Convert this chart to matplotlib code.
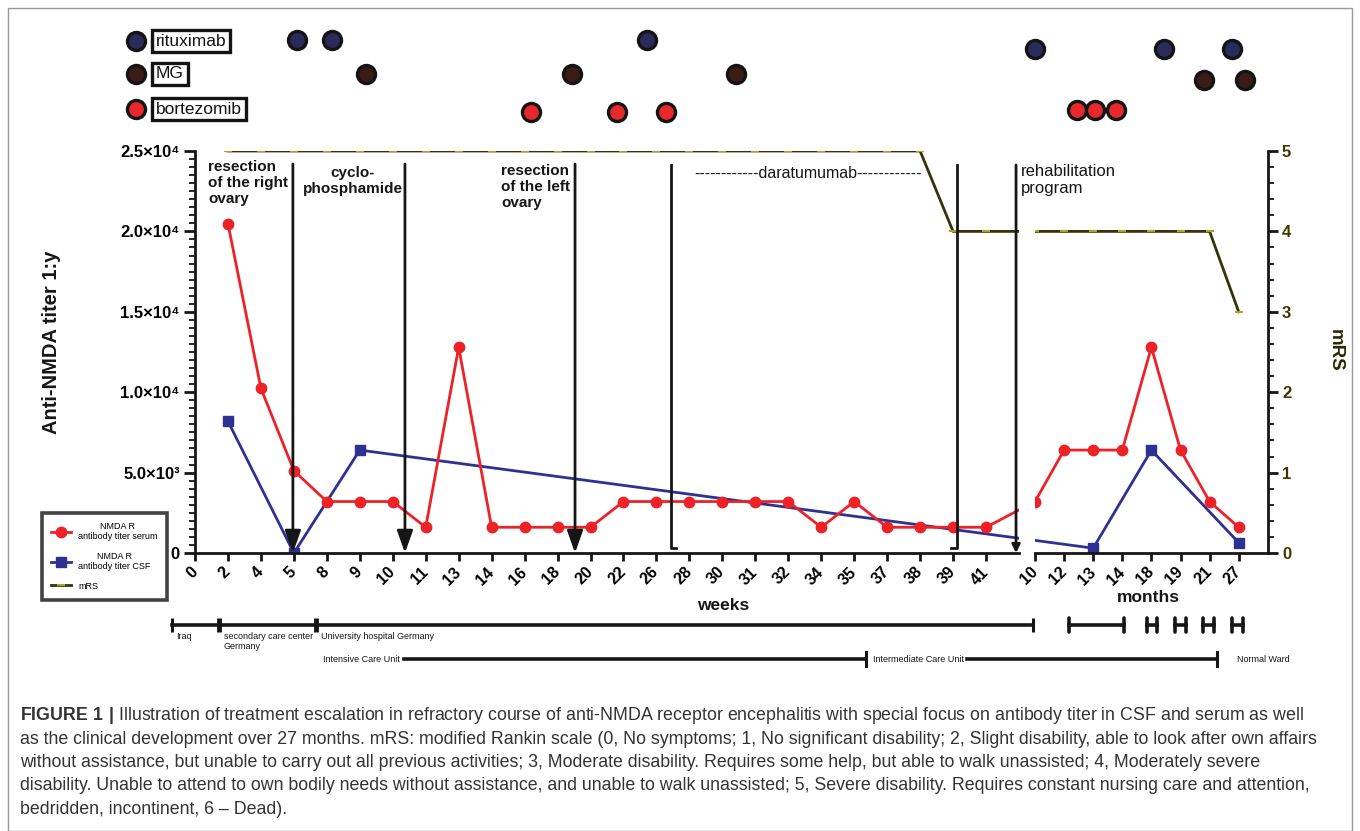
import numpy as np
import matplotlib
matplotlib.use('Agg')
import matplotlib.pyplot as plt
from matplotlib.patches import Rectangle
from matplotlib.ticker import MultipleLocator

plt.rcParams['font.family'] = ['Liberation Sans', 'DejaVu Sans']
plt.rcParams['mathtext.fontset'] = 'custom'
plt.rcParams['mathtext.rm'] = 'Liberation Sans'
plt.rcParams['mathtext.bf'] = 'Liberation Sans:bold'

nan = np.nan

# ---------------- data ----------------
week_labels = ['0', '2', '4', '5', '8', '9', '10', '11', '13', '14', '16', '18', '20',
               '22', '26', '28', '30', '31', '32', '34', '35', '37', '38', '39', '41']
month_labels = ['10', '12', '13', '14', '18', '19', '21', '27']

serum_weeks = [nan, 20480, 10240, 5120, 3200, 3200, 3200, 1600, 12800, 1600, 1600, 1600, 1600,
               3200, 3200, 3200, 3200, 3200, 3200, 1600, 3200, 1600, 1600, 1600, 1600]
serum_months = [3200, 6400, 6400, 6400, 12800, 6400, 3200, 1600]

csf_weeks = [nan, 8192, nan, 0, nan, 6400, nan, nan, nan, nan, nan, nan, nan,
             nan, nan, nan, nan, nan, nan, nan, nan, nan, nan, nan, nan]
csf_months = [nan, nan, 300, nan, 6400, nan, nan, 640]

mrs_weeks = [nan, 5, 5, 5, 5, 5, 5, 5, 5, 5, 5, 5, 5,
             5, 5, 5, 5, 5, 5, 5, 5, 5, 5, 4, 4]
mrs_months = [4, 4, 4, 4, 4, 4, 4, 3]

titer_ticks = [0, 5000, 10000, 15000, 20000, 25000]
titer_tick_labels = ['0', '5.0×10³', '1.0×10⁴', '1.5×10⁴', '2.0×10⁴', '2.5×10⁴']
mrs_ticks = [0, 1, 2, 3, 4, 5]

# treatment time points (in timeline units: week index, months continue after the break)
rituximab_t = [3.1, 4.15, 13.7, 25.5, 29.4, 31.45]
ivig_t = [5.2, 11.45, 16.4, 30.6, 31.85]
bortezomib_t = [10.2, 12.8, 14.3, 26.75, 27.3, 27.95]

# events
arrow_events = [2.97, 6.37, 11.53]
arrow_labels = ['resection\nof the right\novary', 'cyclo-\nphosphamide', 'resection\nof the left\novary']
dara_start, dara_end = 14.43, 23.12
rehab_start = 24.91

# hospital stays
stay_bounds = [-0.70, 0.73, 3.67, 25.42]
stay_labels = ['Iraq', 'secondary care center\nGermany', 'University hospital Germany']
rehab_stays = [(26.52, 28.19), (28.87, 29.2), (29.74, 30.07), (30.59, 30.93), (31.47, 31.8)]
unit_bounds = [6.34, 20.36, 23.42, 31.0]
unit_labels = ['Intensive Care Unit', 'Intermediate Care Unit', 'Normal Ward']

caption_lines = [
    r"$\bf{FIGURE\ 1\ |}$ Illustration of treatment escalation in refractory course of anti-NMDA receptor encephalitis with special focus on antibody titer in CSF and serum as well",
    "as the clinical development over 27 months. mRS: modified Rankin scale (0, No symptoms; 1, No significant disability; 2, Slight disability, able to look after own affairs",
    "without assistance, but unable to carry out all previous activities; 3, Moderate disability. Requires some help, but able to walk unassisted; 4, Moderately severe",
    "disability. Unable to attend to own bodily needs without assistance, and unable to walk unassisted; 5, Severe disability. Requires constant nursing care and attention,",
    "bedridden, incontinent, 6 – Dead).",
]

# ---------------- layout ----------------
W, H = 1360, 831
X0 = 195.0
PXU = 32.96
N_WEEK_SLOTS = 25
MONTH_X0 = 1035.0
MONTH_STEP = 29.1
AX_RIGHT = 1268.0
Y_TOP, Y_BOT = 151.0, 553.0

RED = '#ec2227'
BLUE = '#2e3192'
MRS = '#33330c'
INK = '#161616'


def gx(px):
    return (px - X0) / PXU


def rect(l, t, r, b):
    return [l / W, 1 - b / H, (r - l) / W, (b - t) / H]


week_x = np.arange(len(week_labels), dtype=float)
month_x = gx(MONTH_X0) + np.arange(len(month_labels)) * MONTH_STEP / PXU
all_x = np.concatenate([week_x, month_x])
serum_all = np.array(serum_weeks + serum_months, dtype=float)
csf_all = np.array(csf_weeks + csf_months, dtype=float)
mrs_all = np.array(mrs_weeks + mrs_months, dtype=float)

fig = plt.figure(figsize=(W / 100, H / 100), dpi=100)
fig.patch.set_facecolor('white')

ax1 = fig.add_axes(rect(X0, Y_TOP, X0 + N_WEEK_SLOTS * PXU, Y_BOT))
ax2 = fig.add_axes(rect(MONTH_X0, Y_TOP, AX_RIGHT, Y_BOT))
ax1.set_xlim(0, N_WEEK_SLOTS)
ax2.set_xlim(gx(MONTH_X0), gx(AX_RIGHT))
ax1r = ax1.twinx()
ax2r = ax2.twinx()

handles = []
for ax in (ax1, ax2):
    ax.set_ylim(0, 25000)
    ax.set_facecolor('none')
    m = ~np.isnan(serum_all)
    l1, = ax.plot(all_x[m], serum_all[m], color=RED, lw=2, marker='o', ms=7.5, zorder=3)
    m = ~np.isnan(csf_all)
    l2, = ax.plot(all_x[m], csf_all[m], color=BLUE, lw=2, marker='s', ms=7, zorder=2)
    if ax is ax1:
        handles += [l1, l2]
for axr in (ax1r, ax2r):
    axr.set_ylim(0, 5)
    m = ~np.isnan(mrs_all)
    l3, = axr.plot(all_x[m], mrs_all[m], color=MRS, lw=2, marker='_', ms=6, mew=1.5,
                   mec='#a8a820', clip_on=True)
    if axr is ax1r:
        handles.append(l3)

# spines & ticks
for sp in ['top', 'right']:
    ax1.spines[sp].set_visible(False)
for sp in ['top', 'right', 'left']:
    ax2.spines[sp].set_visible(False)
for sp in ax1r.spines.values():
    sp.set_visible(False)
for sp in ['top', 'left', 'bottom']:
    ax2r.spines[sp].set_visible(False)
ax1r.set_yticks([])
ax2.set_yticks([])
for ax in (ax1, ax2, ax2r):
    for sp in ax.spines.values():
        sp.set_linewidth(2)
        sp.set_color(INK)

ax1.set_yticks(titer_ticks, titer_tick_labels, fontweight='bold', fontsize=12)
ax1.yaxis.set_minor_locator(MultipleLocator(500))
ax1.tick_params(axis='y', which='major', length=8, width=2, color=INK, pad=3)
ax1.tick_params(axis='y', which='minor', length=4, width=1.3, color=INK)

ax1.set_xticks(week_x, week_labels, rotation=45, ha='right', va='center',
               rotation_mode='anchor', fontweight='bold', fontsize=11.5)
ax2.set_xticks(month_x, month_labels, rotation=45, ha='right', va='center',
               rotation_mode='anchor', fontweight='bold', fontsize=11.5)
for ax in (ax1, ax2):
    ax.tick_params(axis='x', which='major', length=6, width=2, color=INK, pad=6)

ax2r.set_yticks(mrs_ticks, [str(v) for v in mrs_ticks], fontweight='bold', fontsize=12,
                color='#3a3a00')
ax2r.yaxis.set_minor_locator(MultipleLocator(0.2))
ax2r.tick_params(axis='y', which='major', length=7, width=2, color=INK, pad=3)
ax2r.tick_params(axis='y', which='minor', length=4, width=1.3, color=INK)

# ---------------- overlays ----------------
og = fig.add_axes([0, 0, 1, 1])  # timeline units in x, pixels in y
og.set_xlim(gx(0), gx(W))
og.set_ylim(H, 0)
og.axis('off')
og.set_facecolor('none')

op = fig.add_axes([0, 0, 1, 1])  # pixels
op.set_xlim(0, W)
op.set_ylim(H, 0)
op.axis('off')
op.set_facecolor('none')

# outer frame
op.add_patch(Rectangle((8, 8), W - 16, H - 8, fill=False, ec='#9a9a9a', lw=1))

# treatment dots
dot_style = dict(ls='none', marker='o', ms=13, mew=2.4, mec='#141414')
rows = {'rit': (40, 49), 'ivig': (74, 80), 'bor': (112, 110)}
for key, ts, fc in [('rit', rituximab_t, '#2a2a5c'), ('ivig', ivig_t, '#3a1c16'),
                    ('bor', bortezomib_t, '#e8282b')]:
    ys = [rows[key][0] if t < N_WEEK_SLOTS else rows[key][1] for t in ts]
    og.plot(ts, ys, mfc=fc, **dot_style)

# legend of treatments
for y, fc, lab in [(41, '#2a2a5c', 'rituximab'), (74, '#3a1c16', 'MG'), (109, '#e8282b', 'bortezomib')]:
    op.plot([136], [y], mfc=fc, **dot_style)
    op.text(156, y, lab, fontsize=12.5, va='center', ha='left', color='#111',
            bbox=dict(boxstyle='square,pad=0.22', fc='white', ec='#141414', lw=2.4))

# arrows and labels
for t in arrow_events:
    og.annotate('', xy=(t, Y_BOT), xytext=(t, 164),
                arrowprops=dict(arrowstyle='-|>,head_length=0.9,head_width=0.32',
                                lw=2, color=INK, mutation_scale=15, shrinkA=0, shrinkB=0))
op.text(208, 160, arrow_labels[0], fontsize=11, fontweight='bold', va='top', ha='left',
        linespacing=1.2, color=INK)
op.text(353, 166, arrow_labels[1], fontsize=11, fontweight='bold', va='top', ha='center',
        linespacing=1.2, color=INK)
op.text(501, 164, arrow_labels[2], fontsize=11, fontweight='bold', va='top', ha='left',
        linespacing=1.2, color=INK)

# daratumumab brackets
foot = 0.17
og.plot([dara_start, dara_start, dara_start + foot], [165, 548, 548], color=INK, lw=2)
og.plot([dara_end, dara_end, dara_end - foot], [165, 548, 548], color=INK, lw=2)
op.text(694, 174, '------------daratumumab------------', fontsize=11.5,
        va='center', ha='left', color=INK)
og.annotate('', xy=(rehab_start, Y_BOT), xytext=(rehab_start, 165),
            arrowprops=dict(arrowstyle='-|>,head_length=0.4,head_width=0.2',
                            lw=2, color=INK, mutation_scale=12, shrinkA=0, shrinkB=0))
op.text(1021, 164, 'rehabilitation\nprogram', fontsize=12, va='top', ha='left',
        linespacing=1.15, color=INK)

# axis titles
op.text(52, 342, 'Anti-NMDA titer 1:y', rotation=90, fontsize=14.5, fontweight='bold',
        va='center', ha='center', color=INK)
op.text(1335, 350, 'mRS', rotation=270, fontsize=13.5, fontweight='bold',
        va='center', ha='center', color='#2a2a00')
op.text(723, 606, 'weeks', fontsize=12.5, fontweight='bold', va='center', ha='center', color=INK)
op.text(1148, 597, 'months', fontsize=12.5, fontweight='bold', va='center', ha='center', color=INK)

# legend
leg = fig.legend(handles, ['NMDA R\nantibody titer serum', 'NMDA R\nantibody titer CSF', 'mRS'],
                 loc='upper left', bbox_to_anchor=(42 / W, 1 - 513 / H), borderaxespad=0,
                 frameon=True, fancybox=False, edgecolor='#141414', fontsize=6.5,
                 handlelength=2.2, borderpad=1.0, labelspacing=1.15, handletextpad=0.8)
leg.get_frame().set_linewidth(2.6)
for txt in leg.get_texts():
    txt.set_multialignment('center')

# hospital stay timeline
ly = 625
og.plot([stay_bounds[0], stay_bounds[-1]], [ly, ly], color=INK, lw=2.6)
for i, b in enumerate(stay_bounds):
    w = 3.5 if 0 < i < len(stay_bounds) - 1 else 2.2
    og.plot([b, b], [ly - 7, ly + 7], color=INK, lw=w, solid_capstyle='butt')
for b, lab in zip(stay_bounds[:-1], stay_labels):
    og.text(b + 0.14, 632, lab, fontsize=6.5, va='top', ha='left', color=INK, linespacing=1.1)
for a, b in rehab_stays:
    og.plot([a, b], [ly, ly], color=INK, lw=2.6)
    for v in (a, b):
        og.plot([v, v], [ly - 7, ly + 7], color=INK, lw=2.6, solid_capstyle='round')

uy = 659
og.text(unit_bounds[0] - 2.45, uy, unit_labels[0], fontsize=6.5, va='center', ha='left', color=INK)
og.plot([unit_bounds[0], unit_bounds[1]], [uy, uy], color=INK, lw=2.6)
og.plot([unit_bounds[1], unit_bounds[1]], [uy - 7, uy + 7], color=INK, lw=2.2)
og.text(unit_bounds[1] + 0.2, uy, unit_labels[1], fontsize=6.5, va='center', ha='left', color=INK)
og.plot([unit_bounds[2], unit_bounds[3]], [uy, uy], color=INK, lw=2.6)
og.plot([unit_bounds[3], unit_bounds[3]], [uy - 7, uy + 7], color=INK, lw=2.2)
og.text(unit_bounds[3] + 0.6, uy, unit_labels[2], fontsize=6.5, va='center', ha='left', color=INK)

# caption
for i, line in enumerate(caption_lines):
    op.text(20, 716 + i * 23.3, line, fontsize=12.8, va='center', ha='left', color='#333333')

fig.savefig('out.png', dpi=100, facecolor='white')
